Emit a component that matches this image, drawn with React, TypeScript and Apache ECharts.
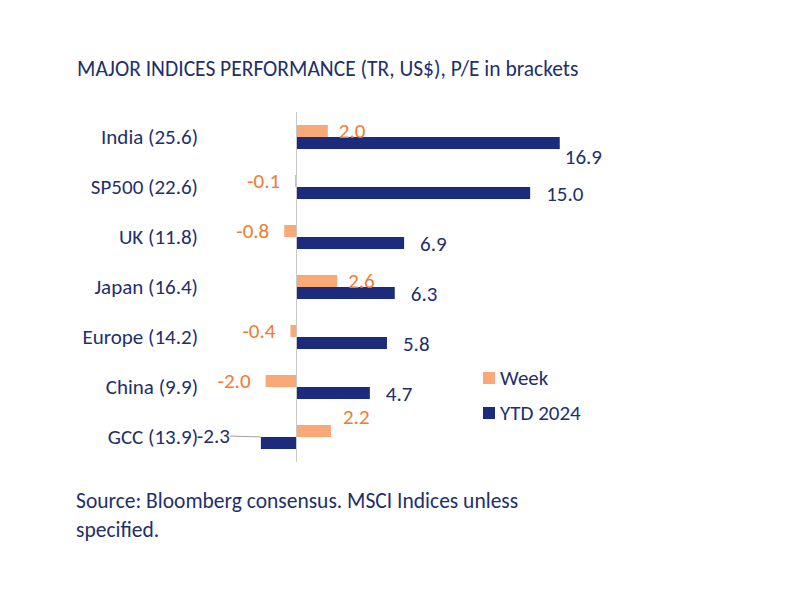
import React, { useEffect, useRef } from "react";
import * as echarts from "echarts";

const categories = ["India (25.6)", "SP500 (22.6)", "UK (11.8)", "Japan (16.4)", "Europe (14.2)", "China (9.9)", "GCC (13.9)"];
const weekValues = [2.0, -0.1, -0.8, 2.6, -0.4, -2.0, 2.2];
const ytdValues = [16.9, 15.0, 6.9, 6.3, 5.8, 4.7, -2.3];
const seriesNames = ["Week", "YTD 2024"];
const titleText = "MAJOR INDICES PERFORMANCE (TR, US$), P/E in brackets";
const sourceText = "Source: Bloomberg consensus. MSCI Indices unless\nspecified.";

const FONT = "Carlito, Calibri, Lato, sans-serif";
const NAVY_TEXT = "#22306A";
const ORANGE_TEXT = "#EE7B30";
const WEEK_COLOR = "#F9A878";
const YTD_COLOR = "#1C2B7B";

export default function App() {
  const ref = useRef<HTMLDivElement>(null);
  useEffect(() => {
    if (!ref.current) return;
    const chart = echarts.init(ref.current, null, { renderer: "svg" });

    const lastIdx = ytdValues.length - 1;

    const weekData = weekValues.map((v, i) => {
      const item: any = {
        value: v,
        label: {
          position: v < 0 ? "left" : "right",
          distance: v < 0 ? 15 : 11,
        },
      };
      if (i === lastIdx) {
        item.label = { position: "right", distance: 12, offset: [0, -14] };
      }
      return item;
    });

    const ytdData = ytdValues.map((v, i) => {
      const item: any = {
        value: v,
        label: {
          position: v < 0 ? "left" : "right",
          distance: v < 0 ? 31 : 16,
        },
      };
      if (i === 0) {
        item.label = { position: "right", distance: 5 };
      }
      if (i === lastIdx) {
        item.labelLine = { show: true, lineStyle: { color: "#A0A0A0", width: 1 } };
      }
      return item;
    });

    chart.setOption({
      animation: false,
      backgroundColor: "#ffffff",
      textStyle: { fontFamily: FONT },
      title: {
        text: titleText,
        left: 72,
        top: 53,
        textStyle: { fontFamily: FONT, fontSize: 21.5, fontWeight: "normal", color: NAVY_TEXT },
      },
      legend: {
        orient: "vertical",
        left: 478,
        top: 362,
        itemWidth: 12,
        itemHeight: 12,
        itemGap: 13,
        icon: "rect",
        data: seriesNames,
        textStyle: { fontFamily: FONT, fontSize: 21, color: NAVY_TEXT, lineHeight: 22 },
      },
      grid: { left: 250, top: 112, width: 358, height: 350, containLabel: false },
      xAxis: {
        type: "value",
        min: -3,
        max: 20,
        show: false,
        splitLine: { show: false },
      },
      yAxis: {
        type: "category",
        inverse: true,
        data: categories,
        axisLine: { show: false },
        axisTick: { show: false },
        axisLabel: { fontFamily: FONT, fontSize: 21, color: NAVY_TEXT, margin: 52 },
      },
      series: [
        {
          name: seriesNames[0],
          type: "bar",
          barWidth: 12,
          barGap: "0%",
          itemStyle: { color: WEEK_COLOR },
          label: {
            show: true,
            formatter: (p: any) => p.value.toFixed(1),
            fontFamily: FONT,
            fontSize: 21,
            color: ORANGE_TEXT,
          },
          data: weekData,
          markLine: {
            silent: true,
            symbol: "none",
            label: { show: false },
            lineStyle: { color: "#C8C8C8", type: "solid", width: 1 },
            data: [{ xAxis: 0 }],
          },
        },
        {
          name: seriesNames[1],
          type: "bar",
          barWidth: 12,
          barGap: "0%",
          itemStyle: { color: YTD_COLOR },
          label: {
            show: true,
            formatter: (p: any) => p.value.toFixed(1),
            fontFamily: FONT,
            fontSize: 21,
            color: NAVY_TEXT,
          },
          labelLine: { show: false },
          labelLayout: (params: any) => {
            if (params.dataIndex === lastIdx) return { dy: -7 };
            if (params.dataIndex === 0) return { dy: 14 };
            return { dy: 1 };
          },
          data: ytdData,
        },
      ],
      graphic: [
        {
          type: "text",
          left: 76,
          top: 486,
          style: {
            text: sourceText,
            font: `21.5px ${FONT}`,
            fill: NAVY_TEXT,
            lineHeight: 29,
          },
        },
      ],
    });
    return () => chart.dispose();
  }, []);
  return (
    <div
      ref={ref}
      style={{ position: "fixed", left: 0, top: 0, width: 800, height: 600 }}
    />
  );
}
